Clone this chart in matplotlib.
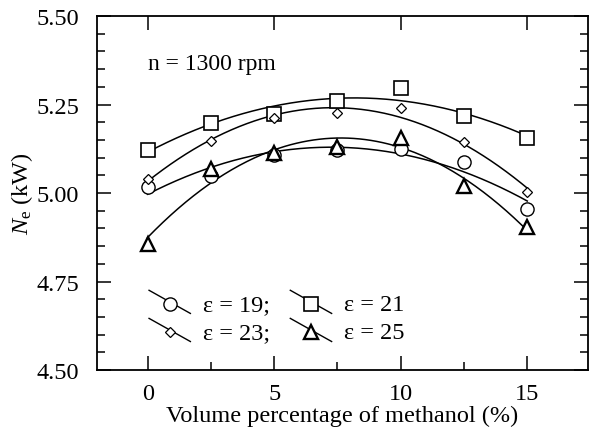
import numpy as np
import matplotlib
matplotlib.use('Agg')
import matplotlib.pyplot as plt
from matplotlib.lines import Line2D
from matplotlib.legend_handler import HandlerLine2D
from matplotlib.ticker import MultipleLocator

plt.rcParams['font.family'] = ['Liberation Serif', 'DejaVu Serif']
plt.rcParams['mathtext.fontset'] = 'custom'
plt.rcParams['mathtext.rm'] = 'Liberation Serif'
plt.rcParams['mathtext.it'] = 'Liberation Serif:italic'

# volume percentage of methanol (%)
methanol = [0, 2.5, 5, 7.5, 10, 12.5, 15]

# effective power Ne (kW) for each compression ratio
ne_19 = [5.016, 5.049, 5.108, 5.122, 5.124, 5.088, 4.955]
ne_21 = [5.122, 5.198, 5.223, 5.259, 5.296, 5.218, 5.155]
ne_23 = [5.040, 5.148, 5.211, 5.225, 5.239, 5.143, 5.004]
ne_25 = [4.855, 5.068, 5.113, 5.129, 5.155, 5.021, 4.903]

labels = ['\u03b5 = 19;', '\u03b5 = 21', '\u03b5 = 23;', '\u03b5 = 25']


class DiagHandler(HandlerLine2D):
    '''legend entry: slanted line with the marker sitting on it'''
    def create_artists(self, legend, orig_handle, xdescent, ydescent,
                       width, height, fontsize, trans):
        x0, x1 = -xdescent, width - xdescent
        yc = height / 2 - ydescent
        line = Line2D([x0, x1], [yc + 0.68 * height, yc - 0.68 * height],
                      color='black', lw=1.0)
        mark = Line2D([(x0 + x1) / 2], [yc - 0.12 * height])
        self.update_prop(mark, orig_handle, legend)
        mark.set_linestyle('none')
        line.set_transform(trans)
        mark.set_transform(trans)
        return [line, mark]


fig = plt.figure(figsize=(5.89, 4.31), dpi=100)
ax = fig.add_axes([0.1647, 0.1392, 0.8336, 0.8213])

x = np.array(methanol)
xs = np.linspace(0, 15, 200)
styles = [
    (ne_19, dict(marker='o', markersize=9.5, mew=1.0)),
    (ne_21, dict(marker='s', markersize=9.5, mew=1.2)),
    (ne_23, dict(marker='D', markersize=5.2, mew=0.9)),
    (ne_25, dict(marker='^', markersize=9.5, mew=1.7)),
]

handles = []
for y, st in styles:
    coef = np.polyfit(x, y, 2)
    ax.plot(xs, np.polyval(coef, xs), color='black', lw=1.1, zorder=2)
    h, = ax.plot(x, y, linestyle='none', mfc='white', mec='black', zorder=3, **st)
    handles.append(h)

ax.text(0, 5.367, 'n = 1300 rpm', fontsize=17, va='center', ha='left')

# legend fills column-wise, so reorder to get 19, 21 / 23, 25 in rows
order = [0, 2, 1, 3]
leg = ax.legend([handles[i] for i in order], [labels[i] for i in order],
                ncol=2, loc='lower left',
                bbox_to_anchor=(0.106, 0.075), frameon=False, fontsize=17.5,
                handlelength=1.7, handletextpad=0.5, columnspacing=0.85,
                labelspacing=0.25, borderpad=0, borderaxespad=0,
                handler_map={Line2D: DiagHandler()})

ax.set_xlim(-2, 17.4)
ax.set_ylim(4.5, 5.5)
ax.xaxis.set_major_locator(MultipleLocator(5))
ax.xaxis.set_minor_locator(MultipleLocator(2.5))
ax.yaxis.set_major_locator(MultipleLocator(0.25))
ax.yaxis.set_minor_locator(MultipleLocator(0.05))
ax.yaxis.set_major_formatter(matplotlib.ticker.FormatStrFormatter('%.2f'))

ax.tick_params(which='both', direction='in', top=True, right=True,
               labelsize=17.5, width=1.1)
ax.tick_params(which='major', length=10)
ax.tick_params(axis='x', which='major', pad=9)
ax.tick_params(axis='y', which='major', pad=13)
ax.tick_params(which='minor', length=6)
ax.tick_params(axis='x', which='minor', top=False)
for s in ax.spines.values():
    s.set_linewidth(1.3)

ax.set_xlabel('Volume percentage of methanol (%)', fontsize=17.5, labelpad=1)
ax.set_ylabel(r'$N_{\mathrm{e}}$ (kW)', fontsize=17.5, labelpad=1)

fig.savefig('out.png', dpi=100)
